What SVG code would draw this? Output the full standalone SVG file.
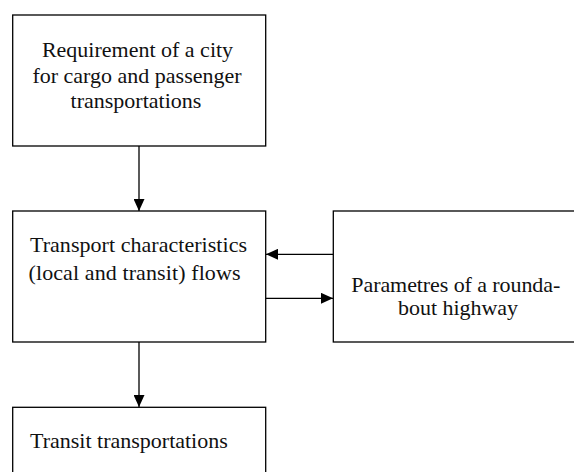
<svg xmlns="http://www.w3.org/2000/svg" width="574" height="472" viewBox="0 0 574 472">
<style>
.box{fill:#fff;stroke:#000;stroke-width:1.3}
.t{font-family:'Liberation Serif','Times New Roman',serif;font-size:22px;fill:#111}
.c{stroke:#000;stroke-width:1.3;fill:none}
</style>
<defs>
<marker id="ah" markerWidth="12" markerHeight="11" refX="12" refY="5.5" orient="auto" markerUnits="userSpaceOnUse">
<path d="M0,0 L12,5.5 L0,11 Z" fill="#000"/>
</marker>
</defs>
<rect width="574" height="472" fill="#fff"/>
<g id="n1">
<rect class="box" x="12.7" y="15" width="253" height="131"/>
<text class="t" text-anchor="middle"><tspan x="137.5" y="57">Requirement of a city</tspan><tspan x="137" y="82.5">for cargo and passenger</tspan><tspan x="136" y="108">transportations</tspan></text>
</g>
<g id="n2">
<rect class="box" x="12.7" y="211" width="253" height="131"/>
<text class="t"><tspan x="30" y="252" textLength="217" lengthAdjust="spacing">Transport characteristics</tspan><tspan x="28.5" y="279.5" textLength="212" lengthAdjust="spacing">(local and transit) flows</tspan></text>
</g>
<g id="n3">
<rect class="box" x="333.3" y="211" width="250" height="131"/>
<text class="t"><tspan x="351.3" y="292" textLength="209" lengthAdjust="spacing">Parametres of a rounda-</tspan><tspan x="398" y="315" textLength="120" lengthAdjust="spacing">bout highway</tspan></text>
</g>
<g id="n4">
<rect class="box" x="12.7" y="407.3" width="253" height="80"/>
<text class="t"><tspan x="30" y="448">Transit transportations</tspan></text>
</g>
<g id="connectors">
<line class="c" x1="139" y1="146" x2="139" y2="211" marker-end="url(#ah)"/>
<line class="c" x1="333" y1="254.3" x2="266" y2="254.3" marker-end="url(#ah)"/>
<line class="c" x1="266" y1="298.3" x2="333" y2="298.3" marker-end="url(#ah)"/>
<line class="c" x1="139" y1="342" x2="139" y2="407" marker-end="url(#ah)"/>
</g>
</svg>
